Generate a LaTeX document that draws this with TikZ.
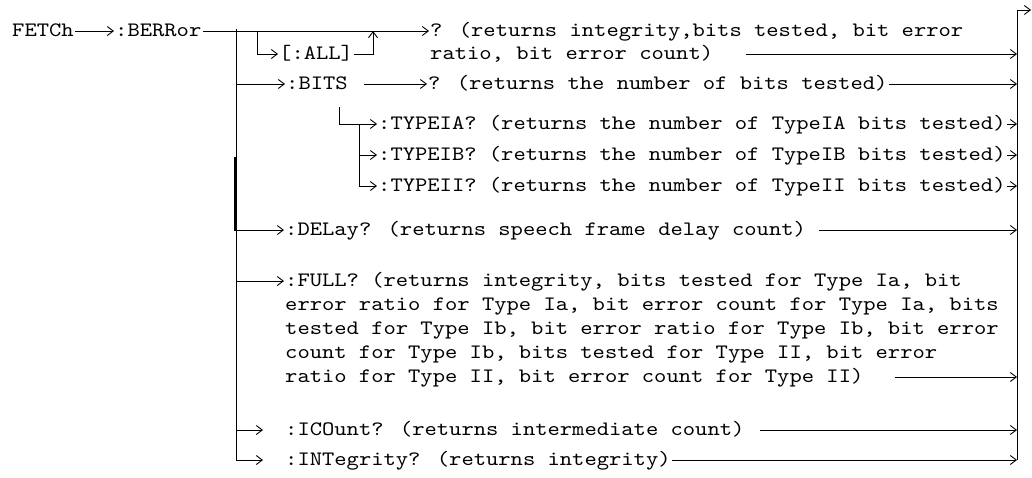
\documentclass[tikz,border=0pt]{standalone}
\usepackage{fontspec}
\newfontfamily\codefont[FakeStretch=1.143]{lmmono10-regular.otf}
\usetikzlibrary{arrows.meta, positioning}

\begin{document}
\begin{tikzpicture}[
  x=1pt, y=-1pt,
  cmd/.style={anchor=west, font=\codefont\fontsize{20.5}{24}\selectfont, inner xsep=1pt, inner ysep=0pt, text height=11pt, text depth=0pt},
  link/.style={line width=0.9pt},
  arrow/.style={link, -{Straight Barb[length=6pt, width=9pt]}},
]
\useasboundingbox (0, 0) rectangle (1032, 477);

% Root
\node[cmd] (fetch) at (11, 31) {FETCh};
\node[cmd] (berror) at (114, 31) {:BERRor};

% Whole result
\node[cmd] (all) at (278, 54) {[:ALL]};
\node[cmd] (allq) at (429, 31) {? (returns integrity,bits tested, bit error};
\node[cmd] (allq2) at (429, 54) {ratio, bit error count)};

% Bits
\node[cmd] (bits) at (285, 84) {:BITS};
\node[cmd] (bitsq) at (427, 84) {? (returns the number of bits tested)};
\node[cmd] (typeia) at (377, 124) {:TYPEIA? (returns the number of TypeIA bits tested)};
\node[cmd] (typeib) at (377, 155) {:TYPEIB? (returns the number of TypeIB bits tested)};
\node[cmd] (typeii) at (377, 186) {:TYPEII? (returns the number of TypeII bits tested)};

% Other queries
\node[cmd] (delay) at (284, 230) {:DELay? (returns speech frame delay count)};
\node[cmd] (full1) at (284, 281) {:FULL? (returns integrity, bits tested for Type Ia, bit};
\node[cmd] (full2) at (284, 305) {error ratio for Type Ia, bit error count for Type Ia, bits};
\node[cmd] (full3) at (284, 329) {tested for Type Ib, bit error ratio for Type Ib, bit error};
\node[cmd] (full4) at (284, 353) {count for Type Ib, bits tested for Type II, bit error};
\node[cmd] (full5) at (284, 377) {ratio for Type II, bit error count for Type II)};
\node[cmd] (icount) at (284, 430) {:ICOunt? (returns intermediate count)};
\node[cmd] (integ) at (284, 460) {:INTegrity? (returns integrity)};

% Junctions
\coordinate (trunktop) at (236, 29);
\coordinate (trunkbot) at (236, 460);
\coordinate (allsplit) at (257, 31);
\coordinate (alljoin) at (373, 31);
\coordinate (typetop) at (339, 107);
\coordinate (typefork) at (359, 124);
\coordinate (railtop) at (1017, 10);
\coordinate (railbot) at (1017, 460);
\coordinate (railout) at (1031, 10);

% Arrows
\draw[arrow] (fetch) -- (berror);
\draw[arrow] (berror) -- (allq);
\draw[link] (trunktop) -- (trunkbot);
\draw[line width=2pt] (235.4, 157) -- (235.4, 231);
\draw[arrow] (allsplit) |- (all);
\draw[arrow] (all) -| (alljoin);
\draw[arrow] (trunktop |- bits) -- (bits);
\draw[arrow] ([xshift=15pt]bits.east) -- (bitsq);
\draw[link] (typetop) |- (typefork);
\draw[link] (typefork) -- (typefork |- typeii);
\draw[arrow] (typefork) -- (typeia);
\draw[arrow] (typefork |- typeib) -- (typeib);
\draw[arrow] (typefork |- typeii) -- (typeii);
\draw[arrow] (trunktop |- delay) -- (delay);
\draw[arrow] (trunktop |- full1) -- (full1);
\draw[arrow] (trunktop |- icount) -- ([xshift=-21pt]icount.west);
\draw[arrow] (trunkbot) -- ([xshift=-21pt]integ.west);

% Exits
\draw[link] (railbot) -- (railtop);
\draw[arrow] (railtop) -- (railout);
\draw[arrow] ([xshift=32pt]allq2.east) -- (allq2 -| railtop);
\draw[arrow] (bitsq) -- (bitsq -| railtop);
\draw[arrow] (typeia) -- (typeia -| railtop);
\draw[arrow] (typeib) -- (typeib -| railtop);
\draw[arrow] (typeii) -- (typeii -| railtop);
\draw[arrow] ([xshift=12pt]delay.east) -- (delay -| railtop);
\draw[arrow] ([xshift=30pt]full5.east) -- (full5 -| railtop);
\draw[arrow] ([xshift=14pt]icount.east) -- (icount -| railtop);
\draw[arrow] (integ) -- (integ -| railtop);
\end{tikzpicture}
\end{document}
